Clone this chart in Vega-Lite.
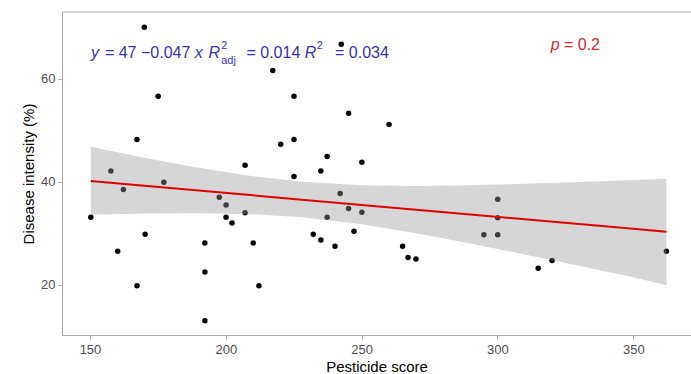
{
  "$schema": "https://vega.github.io/schema/vega-lite/v6.json",
  "width": 629,
  "height": 323,
  "autosize": {"type": "none"},
  "padding": {"left": 62, "top": 12, "right": 0, "bottom": 39},
  "background": "white",
  "config": {
    "font": "Liberation Sans",
    "view": {"stroke": null},
    "axis": {
      "grid": false,
      "domainColor": "#a6a6a6",
      "tickColor": "#a6a6a6",
      "tickSize": 4,
      "labelColor": "#4d4d4d",
      "labelFontSize": 13,
      "labelFont": "Liberation Sans",
      "titleFont": "Liberation Sans",
      "titleFontSize": 15,
      "titleFontWeight": "normal",
      "titleColor": "#000000"
    }
  },
  "datasets": {
    "points": [
      {"score": 170.0, "intensity": 70.0},
      {"score": 175.1, "intensity": 56.6},
      {"score": 167.3, "intensity": 48.2},
      {"score": 207.1, "intensity": 43.2},
      {"score": 157.7, "intensity": 42.1},
      {"score": 177.2, "intensity": 39.9},
      {"score": 162.3, "intensity": 38.5},
      {"score": 197.6, "intensity": 37.0},
      {"score": 200.1, "intensity": 35.5},
      {"score": 207.1, "intensity": 34.0},
      {"score": 150.3, "intensity": 33.1},
      {"score": 200.1, "intensity": 33.1},
      {"score": 202.3, "intensity": 32.0},
      {"score": 170.3, "intensity": 29.8},
      {"score": 192.3, "intensity": 28.1},
      {"score": 210.1, "intensity": 28.1},
      {"score": 160.2, "intensity": 26.5},
      {"score": 192.3, "intensity": 22.5},
      {"score": 167.3, "intensity": 19.8},
      {"score": 212.2, "intensity": 19.8},
      {"score": 192.3, "intensity": 13.0},
      {"score": 217.3, "intensity": 61.6},
      {"score": 225.1, "intensity": 56.6},
      {"score": 225.1, "intensity": 48.2},
      {"score": 220.2, "intensity": 47.3},
      {"score": 225.1, "intensity": 41.0},
      {"score": 242.5, "intensity": 66.7},
      {"score": 245.2, "intensity": 53.3},
      {"score": 260.1, "intensity": 51.1},
      {"score": 237.3, "intensity": 44.9},
      {"score": 250.1, "intensity": 43.8},
      {"score": 235.0, "intensity": 42.1},
      {"score": 242.1, "intensity": 37.7},
      {"score": 245.2, "intensity": 34.8},
      {"score": 250.1, "intensity": 34.1},
      {"score": 237.3, "intensity": 33.1},
      {"score": 247.2, "intensity": 30.4},
      {"score": 232.2, "intensity": 29.8},
      {"score": 235.0, "intensity": 28.7},
      {"score": 240.2, "intensity": 27.5},
      {"score": 265.1, "intensity": 27.5},
      {"score": 267.1, "intensity": 25.3},
      {"score": 270.0, "intensity": 25.0},
      {"score": 300.1, "intensity": 36.6},
      {"score": 300.1, "intensity": 33.0},
      {"score": 295.0, "intensity": 29.7},
      {"score": 300.1, "intensity": 29.7},
      {"score": 320.1, "intensity": 24.7},
      {"score": 315.0, "intensity": 23.2},
      {"score": 362.2, "intensity": 26.5}
    ],
    "fit": [
      {"score": 150.3, "fit": 40.13, "lower": 33.6, "upper": 46.8},
      {"score": 170, "fit": 39.21, "lower": 33.85, "upper": 44.65},
      {"score": 190, "fit": 38.28, "lower": 33.9, "upper": 42.7},
      {"score": 210, "fit": 37.36, "lower": 33.7, "upper": 41.07},
      {"score": 228, "fit": 36.52, "lower": 33.1, "upper": 40.0},
      {"score": 250, "fit": 35.5, "lower": 31.74, "upper": 39.33},
      {"score": 270, "fit": 34.57, "lower": 30.0, "upper": 39.18},
      {"score": 290, "fit": 33.64, "lower": 28.0, "upper": 39.3},
      {"score": 310, "fit": 32.72, "lower": 25.9, "upper": 39.6},
      {"score": 330, "fit": 31.79, "lower": 23.7, "upper": 39.95},
      {"score": 350, "fit": 30.86, "lower": 21.45, "upper": 40.32},
      {"score": 362.2, "fit": 30.29, "lower": 19.9, "upper": 40.6}
    ]
  },
  "layer": [
    {
      "data": {"name": "points"},
      "mark": {"type": "circle", "size": 30, "color": "#000000", "opacity": 1},
      "encoding": {
        "x": {
          "field": "score", "type": "quantitative",
          "scale": {"domain": [139.7, 371.25], "nice": false, "zero": false},
          "axis": {"values": [150, 200, 250, 300, 350], "title": "Pesticide score", "labelPadding": 4, "titlePadding": 3}
        },
        "y": {
          "field": "intensity", "type": "quantitative",
          "scale": {"domain": [10.25, 72.95], "nice": false, "zero": false},
          "axis": {"values": [20, 40, 60], "title": "Disease intensity (%)", "labelPadding": 3, "titlePadding": 4}
        }
      }
    },
    {
      "data": {"name": "fit"},
      "mark": {"type": "area", "color": "#999999", "opacity": 0.4},
      "encoding": {
        "x": {"field": "score", "type": "quantitative"},
        "y": {"field": "lower", "type": "quantitative"},
        "y2": {"field": "upper"}
      }
    },
    {
      "data": {"name": "fit"},
      "mark": {"type": "line", "color": "#e00000", "strokeWidth": 2},
      "encoding": {
        "x": {"field": "score", "type": "quantitative"},
        "y": {"field": "fit", "type": "quantitative"}
      }
    },
    {
      "data": {"values": [{}]},
      "mark": {"type": "rule", "color": "#a6a6a6", "strokeWidth": 1},
      "encoding": {"y": {"datum": 72.95}}
    },
    {
      "data": {"values": [{}]},
      "layer": [
        {"mark": {"type": "text", "text": "y", "fontStyle": "italic", "fontSize": 16, "color": "#3535b0", "align": "left", "baseline": "alphabetic"},
         "encoding": {"x": {"datum": 150.37}, "y": {"datum": 64.0}}},
        {"mark": {"type": "text", "text": "= 47 −0.047", "fontSize": 16, "color": "#3535b0", "align": "left", "baseline": "alphabetic"},
         "encoding": {"x": {"datum": 155.5}, "y": {"datum": 64.0}}},
        {"mark": {"type": "text", "text": "x", "fontStyle": "italic", "fontSize": 16, "color": "#3535b0", "align": "left", "baseline": "alphabetic"},
         "encoding": {"x": {"datum": 188.6}, "y": {"datum": 64.0}}},
        {"mark": {"type": "text", "text": "R", "fontStyle": "italic", "fontSize": 16, "color": "#3535b0", "align": "left", "baseline": "alphabetic"},
         "encoding": {"x": {"datum": 193.6}, "y": {"datum": 64.0}}},
        {"mark": {"type": "text", "text": "2", "fontSize": 11, "color": "#3535b0", "align": "left", "baseline": "alphabetic"},
         "encoding": {"x": {"datum": 198.3}, "y": {"datum": 65.7}}},
        {"mark": {"type": "text", "text": "adj", "fontSize": 11, "color": "#3535b0", "align": "left", "baseline": "alphabetic"},
         "encoding": {"x": {"datum": 198.3}, "y": {"datum": 62.85}}},
        {"mark": {"type": "text", "text": "= 0.014", "fontSize": 16, "color": "#3535b0", "align": "left", "baseline": "alphabetic"},
         "encoding": {"x": {"datum": 207.6}, "y": {"datum": 64.0}}},
        {"mark": {"type": "text", "text": "R", "fontStyle": "italic", "fontSize": 16, "color": "#3535b0", "align": "left", "baseline": "alphabetic"},
         "encoding": {"x": {"datum": 229.1}, "y": {"datum": 64.0}}},
        {"mark": {"type": "text", "text": "2", "fontSize": 11, "color": "#3535b0", "align": "left", "baseline": "alphabetic"},
         "encoding": {"x": {"datum": 233.5}, "y": {"datum": 65.7}}},
        {"mark": {"type": "text", "text": "= 0.034", "fontSize": 16, "color": "#3535b0", "align": "left", "baseline": "alphabetic"},
         "encoding": {"x": {"datum": 240.2}, "y": {"datum": 64.0}}},
        {"mark": {"type": "text", "text": "p", "fontStyle": "italic", "fontSize": 16, "color": "#d42a2a", "align": "left", "baseline": "alphabetic"},
         "encoding": {"x": {"datum": 319.6}, "y": {"datum": 65.67}}},
        {"mark": {"type": "text", "text": "= 0.2", "fontSize": 16, "color": "#d42a2a", "align": "left", "baseline": "alphabetic"},
         "encoding": {"x": {"datum": 324.49}, "y": {"datum": 65.67}}}
      ]
    }
  ]
}
